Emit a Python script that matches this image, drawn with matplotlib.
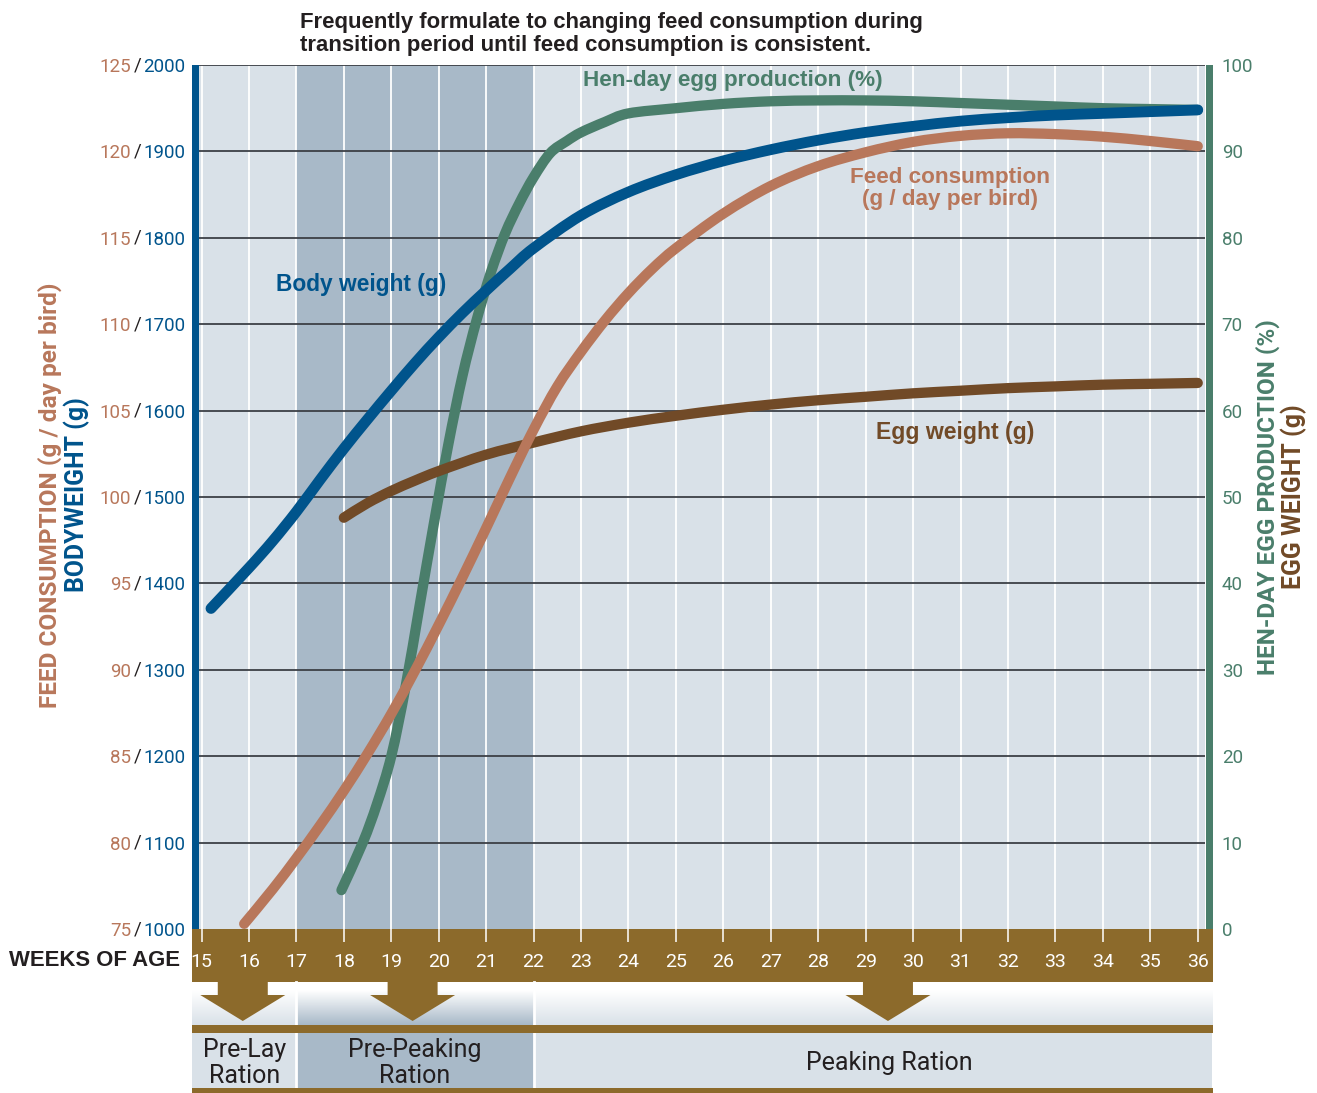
"""Layer flock targets: body weight, feed, egg production and egg weight by age."""

import matplotlib
matplotlib.use("Agg")
import matplotlib.pyplot as plt
import numpy as np
from matplotlib import font_manager
from matplotlib.colors import LinearSegmentedColormap
from matplotlib.patches import PathPatch, Polygon, Rectangle
from matplotlib.path import Path

###################################################################################################
###################################################################################################

# Week axis
weeks = list(range(15, 37))

# Left / right scale ticks
feed_ticks = [75, 80, 85, 90, 95, 100, 105, 110, 115, 120, 125]
bw_ticks = [1000, 1100, 1200, 1300, 1400, 1500, 1600, 1700, 1800, 1900, 2000]
pct_ticks = [0, 10, 20, 30, 40, 50, 60, 70, 80, 90, 100]

# Body weight (g)
bw_age = [15.2, 16, 16.5, 17, 17.5, 18, 18.5, 19, 19.5, 20, 20.5, 21, 21.5, 22,
          23, 24, 25, 26, 27, 28, 29, 30, 31, 32, 33, 34, 35, 36]
bw_val = [1371, 1418, 1449, 1483, 1520, 1556, 1590, 1623, 1655, 1685, 1713, 1739, 1764, 1788,
          1826, 1853, 1873, 1889, 1902, 1913, 1922, 1929, 1935, 1939, 1942, 1944, 1946, 1948]

# Feed consumption (g / day per bird)
feed_age = [15.9, 16.5, 17, 17.5, 18, 18.5, 19, 19.5, 20, 20.5, 21, 21.5, 22, 22.5, 23, 23.5,
            24, 24.5, 25, 26, 27, 28, 29, 30, 31, 32, 33, 34, 35, 36]
feed_val = [75.3, 77.3, 79.1, 81.0, 83.0, 85.15, 87.45, 89.95, 92.6, 95.35, 98.2, 101.1, 103.9,
            106.4, 108.4, 110.2, 111.8, 113.2, 114.4, 116.4, 118.0, 119.15, 119.95, 120.55,
            120.9, 121.05, 121.0, 120.85, 120.6, 120.3]

# Hen-day egg production (%)
hen_age = [17.95, 18.4, 18.7, 19, 19.3, 19.6, 19.9, 20.2, 20.5, 20.8, 21.1, 21.4, 21.7, 22,
           22.35, 22.7, 23, 23.5, 24, 25, 26, 27, 28, 29, 30, 31, 32, 33, 34, 35, 36]
hen_val = [4.5, 10, 14.5, 20, 28, 37.5, 47, 56, 64, 70.5, 76, 80.5, 84, 87,
           89.8, 91.2, 92.2, 93.4, 94.4, 95.0, 95.5, 95.8, 95.9, 95.9, 95.8, 95.6, 95.4, 95.2,
           95.0, 94.9, 94.8]

# Egg weight (g)
egg_age = [18, 18.5, 19, 19.5, 20, 21, 22, 23, 24, 25, 26, 27, 28, 29, 30, 31, 32, 33, 34, 35, 36]
egg_val = [47.6, 49.3, 50.7, 51.9, 53.0, 54.9, 56.3, 57.6, 58.6, 59.4, 60.1, 60.7, 61.2, 61.6,
           62.0, 62.3, 62.6, 62.8, 63.0, 63.1, 63.2]

# Ration periods (start, end, label, arrow week)
ration_names = ["Pre-Lay\nRation", "Pre-Peaking\nRation", "Peaking Ration"]
ration_start = [14.8, 17, 22]
ration_end = [17, 22, 36.45]
ration_arrow = [15.87, 19.45, 29.47]

###################################################################################################
###################################################################################################

C_BLUE = "#00548c"
C_GREEN = "#4a7e6b"
C_SALMON = "#b8775b"
C_EGG = "#714a27"
C_BAND = "#8c6a2b"
C_LIGHT = "#d9e1e8"
C_SHADE = "#a8b9c8"
C_GRID = "#3c4046"
C_TEXT = "#231f20"

W, H = 1317, 1093


def _has_font(name):
    try:
        font_manager.findfont(name, fallback_to_default=False)
        return True
    except ValueError:
        return False


NARROW = "Liberation Sans Narrow" if _has_font("Liberation Sans Narrow") else "Roboto"
BOLD = "Liberation Sans"

# Plot box in pixels
PX_L, PX_R, PX_T, PX_B = 199, 1205, 65, 929
WK0, WK_PX = 201.5, 47.44


def px_to_week(px):
    return 15 + (px - WK0) / WK_PX


def week_to_px(wk):
    return WK0 + (wk - 15) * WK_PX


def smooth_path(xs, ys):
    """Catmull-Rom curve through the points, as cubic Bezier segments."""
    pts = np.column_stack([xs, ys]).astype(float)
    ext = np.vstack([pts[0], pts, pts[-1]])
    verts = [pts[0]]
    codes = [Path.MOVETO]
    for i in range(1, len(ext) - 2):
        p0, p1, p2, p3 = ext[i - 1], ext[i], ext[i + 1], ext[i + 2]
        verts += [p1 + (p2 - p0) / 6, p2 - (p3 - p1) / 6, p2]
        codes += [Path.CURVE4] * 3
    return Path(verts, codes)


def draw_curve(axis, xs, ys, color, lw, zorder):
    patch = PathPatch(smooth_path(xs, ys), fill=False, edgecolor=color, lw=lw,
                      capstyle="round", joinstyle="round", zorder=zorder)
    axis.add_patch(patch)


fig = plt.figure(figsize=(W / 100, H / 100), dpi=100)

# Decoration layer in pixel coordinates
deco = fig.add_axes([0, 0, 1, 1], zorder=0)
deco.set_axis_off()

rect = [PX_L / W, (H - PX_B) / H, (PX_R - PX_L) / W, (PX_B - PX_T) / H]
xlim = (px_to_week(PX_L), px_to_week(PX_R))

ax = fig.add_axes(rect, zorder=2)
ax_feed = fig.add_axes(rect, zorder=3, facecolor="none")
ax_bw = fig.add_axes(rect, zorder=4, facecolor="none")

for a in (ax, ax_feed, ax_bw):
    a.set_xlim(*xlim)
    for sp in a.spines.values():
        sp.set_visible(False)

ax.set_facecolor(C_LIGHT)
ax.set_ylim(0, 100)
ax_feed.set_ylim(75, 125)
ax_bw.set_ylim(1000, 2000)

# Background shading, week lines and grid
ax.axvspan(ration_start[1], ration_end[1], color=C_SHADE, lw=0, zorder=0)
ax.vlines(weeks, 0, 100, colors="white", lw=1.3, zorder=1)
for v in pct_ticks[1:]:
    ax.axhline(v, color=C_GRID, lw=1.3, zorder=2)

# Curves
draw_curve(ax, hen_age, hen_val, C_GREEN, 7.4, 5)
draw_curve(ax, egg_age, egg_val, C_EGG, 7.4, 6)
draw_curve(ax_feed, feed_age, feed_val, C_SALMON, 7.4, 5)
draw_curve(ax_bw, bw_age, bw_val, C_BLUE, 7.8, 5)

# Week ticks sit in the brown band
ax.set_xticks(weeks)
ax.set_xticklabels([str(w) for w in weeks], family=NARROW, fontsize=14, color="white")
ax.tick_params(axis="x", direction="out", length=9.4, width=1.1, color="white", pad=8)

# Right scale: egg production / egg weight
ax.yaxis.tick_right()
ax.set_yticks(pct_ticks)
ax.set_yticklabels([str(v) for v in pct_ticks], family=NARROW, fontsize=13.5, color=C_GREEN)
ax.tick_params(axis="y", length=0, pad=12)

# Left scales: feed / body weight
ax_bw.set_xticks([])
ax_bw.set_yticks(bw_ticks)
ax_bw.set_yticklabels([str(v) for v in bw_ticks], family=NARROW, fontsize=13.5, color=C_BLUE)
ax_bw.tick_params(axis="y", length=0, pad=10)

ax_feed.set_xticks([])
ax_feed.set_yticks(feed_ticks)
ax_feed.set_yticklabels([str(v) for v in feed_ticks], family=NARROW, fontsize=13.5,
                        color=C_SALMON)
ax_feed.tick_params(axis="y", length=0, pad=49)

slash_x = (137.5 - PX_L) / (PX_R - PX_L)
for v in pct_ticks:
    ax.text(slash_x, v, "/", transform=ax.get_yaxis_transform(), family=NARROW,
            fontsize=13.5, color=C_TEXT, ha="center", va="center")

# Curve labels
ax.text(26.2, 98.2, "Hen-day egg production (%)", family=BOLD, weight="bold", fontsize=16.2,
        color=C_GREEN, ha="center", va="center")
ax.text(18.37, 74.6, "Body weight (g)", family=BOLD, weight="bold", fontsize=16.4,
        color=C_BLUE, ha="center", va="center")
ax.text(30.78, 85.7, "Feed consumption\n(g / day per bird)", family=BOLD, weight="bold",
        fontsize=16.2, color=C_SALMON, ha="center", va="center", linespacing=1.05)
ax.text(30.88, 57.5, "Egg weight (g)", family=BOLD, weight="bold", fontsize=16.6,
        color=C_EGG, ha="center", va="center")

# Axis bars
deco.add_patch(Rectangle((192, PX_T), 7, PX_B - PX_T, color=C_BLUE, lw=0))
deco.add_patch(Rectangle((1206, PX_T), 7, PX_B - PX_T, color=C_GREEN, lw=0))

# Week band
deco.add_patch(Rectangle((192, PX_B), 1213 - 192, 982 - PX_B, color=C_BAND, lw=0))
deco.text(180, 960, "WEEKS OF AGE", family=BOLD, weight="bold", fontsize=15.9,
          color=C_TEXT, ha="right", va="center")

# Ration panels with fading top strip
fade = np.clip((np.linspace(982, 1025, 60) - 990) / 35, 0, 1)[:, None]
for i, name in enumerate(ration_names):
    x0 = max(week_to_px(ration_start[i]), 192)
    x1 = min(week_to_px(ration_end[i]), 1212)
    col = C_SHADE if i == 1 else C_LIGHT
    cmap = LinearSegmentedColormap.from_list("fade%d" % i, ["white", col])
    deco.imshow(fade, extent=(x0, x1, 982, 1025), origin="lower", cmap=cmap,
                aspect="auto", vmin=0, vmax=1, zorder=1)
    deco.add_patch(Rectangle((x0, 1033), x1 - x0, 1088 - 1033, color=col, lw=0, zorder=1))
    if i > 0:
        deco.plot([x0, x0], [982, 1088], color="white", lw=2, zorder=2)
    cx = (x0 + x1) / 2 if i < 2 else 889
    deco.text(cx, 1063, name, family=NARROW, fontsize=18, color=C_TEXT, ha="center",
              va="center", linespacing=1.1, zorder=4)

    # Down arrow into the ration panel
    ax_px = week_to_px(ration_arrow[i])
    deco.add_patch(Polygon([(ax_px - 25, 980), (ax_px + 25, 980), (ax_px + 25, 995),
                            (ax_px + 42.5, 995), (ax_px, 1021), (ax_px - 42.5, 995),
                            (ax_px - 25, 995)], closed=True, color=C_BAND, lw=0, zorder=3))

deco.add_patch(Rectangle((192, 1025), 1213 - 192, 8, color=C_BAND, lw=0, zorder=3))
deco.add_patch(Rectangle((192, 1088), 1213 - 192, 6, color=C_BAND, lw=0, zorder=3))

# Axis titles
deco.text(50, 495, "FEED CONSUMPTION (g / day per bird)", family=NARROW, weight="bold",
          fontsize=17.6, color=C_SALMON, rotation=90, ha="center", va="center")
deco.text(77, 495, "BODYWEIGHT (g)", family=NARROW, weight="bold", fontsize=17.8,
          color=C_BLUE, rotation=90, ha="center", va="center")
deco.text(1268, 497, "HEN-DAY EGG PRODUCTION (%)", family=NARROW, weight="bold",
          fontsize=17.5, color=C_GREEN, rotation=90, ha="center", va="center")
deco.text(1294, 497, "EGG WEIGHT (g)", family=NARROW, weight="bold", fontsize=17.9,
          color=C_EGG, rotation=90, ha="center", va="center")

# Note above the plot
deco.text(300, 34, "Frequently formulate to changing feed consumption during\n"
          "transition period until feed consumption is consistent.", family=BOLD,
          weight="bold", fontsize=15.9, color=C_TEXT, ha="left", va="center",
          linespacing=1.18)

deco.set_xlim(0, W)
deco.set_ylim(H, 0)

fig.savefig("out.png", dpi=100)
